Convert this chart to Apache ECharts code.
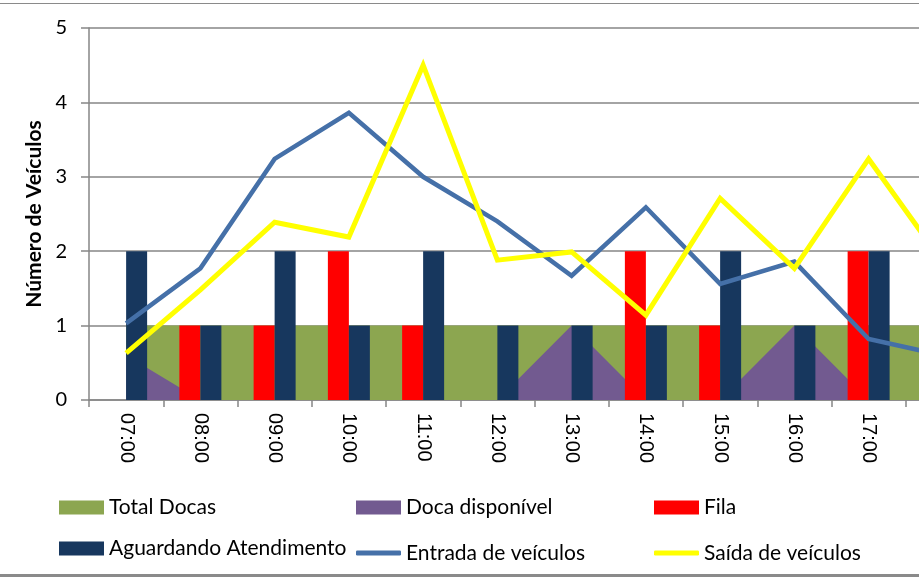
<!DOCTYPE html>
<html>
<head>
<meta charset="utf-8">
<script src="https://cdn.jsdelivr.net/npm/echarts@6/dist/echarts.min.js"></script>
<style>html,body{margin:0;padding:0;background:#fff}#c{width:919px;height:578px}</style>
</head>
<body>
<div id="c"></div>
<script>
var categories = ['07:00','08:00','09:00','10:00','11:00','12:00','13:00','14:00','15:00','16:00','17:00','18:00'];
var totalDocas = [1,1,1,1,1,1,1,1,1,1,1,1];
var docaDisponivel = [0.6,0,0,0,0,0,1,0,0,1,0,0];
var fila = [0,1,1,2,1,0,0,2,1,0,2,0];
var aguardando = [2,1,2,1,2,1,1,1,2,1,2,0];
var entrada = [1.03,1.77,3.24,3.86,3.0,2.4,1.67,2.59,1.56,1.86,0.82,0.6];
var saida = [0.63,1.48,2.39,2.19,4.5,1.88,1.99,1.14,2.71,1.77,3.24,1.85];
var yTicks = [0,1,2,3,4,5];

var C = {green:'#8CA650', purple:'#725A90', red:'#FF0000', navy:'#17375E', blue:'#4570A8', yellow:'#FFFF00'};
var TXT = 'Lato';

var chart = echarts.init(document.getElementById('c'));

function leg(name, left, centerY, icon, color, h) {
  return {
    data: [{name: name, icon: icon, itemStyle: {color: color, borderWidth: 0}}],
    left: left, top: centerY - h / 2, padding: 0,
    itemWidth: 45, itemHeight: h, itemGap: 0,
    selectedMode: false,
    textStyle: {fontFamily: TXT, fontSize: 21, color: '#000', lineHeight: h}
  };
}

chart.setOption({
  backgroundColor: '#fff',
  animation: false,
  grid: {left: 89, top: 28, height: 372, width: 891, containLabel: false, outerBoundsMode: 'none'},
  legend: [
    leg('Total Docas', 59, 504, 'rect', C.green, 14),
    leg('Doca disponível', 356, 504, 'rect', C.purple, 14),
    leg('Fila', 654, 504, 'rect', C.red, 14),
    leg('Aguardando Atendimento', 59, 545, 'rect', C.navy, 14),
    leg('Entrada de veículos', 356, 545, 'roundRect', C.blue, 5),
    leg('Saída de veículos', 654, 545, 'roundRect', C.yellow, 5)
  ],
  xAxis: {
    type: 'category', data: categories, boundaryGap: true,
    axisLine: {lineStyle: {color: '#868686', width: 1.5}},
    axisTick: {show: true, length: 7, lineStyle: {color: '#868686', width: 1.5}},
    axisLabel: {rotate: -90, margin: 13, fontFamily: 'Liberation Sans', fontSize: 20, color: '#000', interval: 0},
    splitLine: {show: false}
  },
  yAxis: {
    type: 'value', min: yTicks[0], max: yTicks[yTicks.length - 1], interval: 1,
    name: 'Número de Veículos', nameLocation: 'middle', nameGap: 42,
    nameTextStyle: {fontFamily: TXT, fontWeight: 'bold', fontSize: 21, color: '#000'},
    axisLine: {show: true, lineStyle: {color: '#868686', width: 1.5}},
    axisTick: {show: true, length: 8, lineStyle: {color: '#868686', width: 1.5}},
    axisLabel: {margin: 22, fontFamily: TXT, fontSize: 20, color: '#000'},
    splitLine: {show: true, lineStyle: {color: '#868686', width: 1.5}}
  },
  series: [
    {name: 'Total Docas', type: 'line', data: totalDocas, z: 1, symbol: 'none', color: C.green,
     lineStyle: {width: 0}, areaStyle: {color: C.green, opacity: 1}},
    {name: 'Doca disponível', type: 'line', data: docaDisponivel, z: 1, symbol: 'none', color: C.purple,
     lineStyle: {width: 0}, areaStyle: {color: C.purple, opacity: 1}},
    {name: 'Fila', type: 'bar', data: fila, z: 2, barWidth: 21, barGap: '0%', itemStyle: {color: C.red}},
    {name: 'Aguardando Atendimento', type: 'bar', data: aguardando, z: 2, barWidth: 21, barGap: '0%', itemStyle: {color: C.navy}},
    {name: 'Entrada de veículos', type: 'line', data: entrada, z: 3, symbol: 'none', color: C.blue,
     lineStyle: {width: 4.5, color: C.blue, join: 'miter'}},
    {name: 'Saída de veículos', type: 'line', data: saida, z: 3, symbol: 'none', color: C.yellow,
     lineStyle: {width: 5, color: C.yellow, join: 'miter'}}
  ],
  graphic: [
    {type: 'rect', shape: {x: 0, y: 3, width: 919, height: 1}, style: {fill: '#8a8a8a'}, silent: true},
    {type: 'rect', shape: {x: 0, y: 574, width: 919, height: 3}, style: {fill: '#8a8a8a'}, silent: true}
  ]
});
</script>
</body>
</html>
